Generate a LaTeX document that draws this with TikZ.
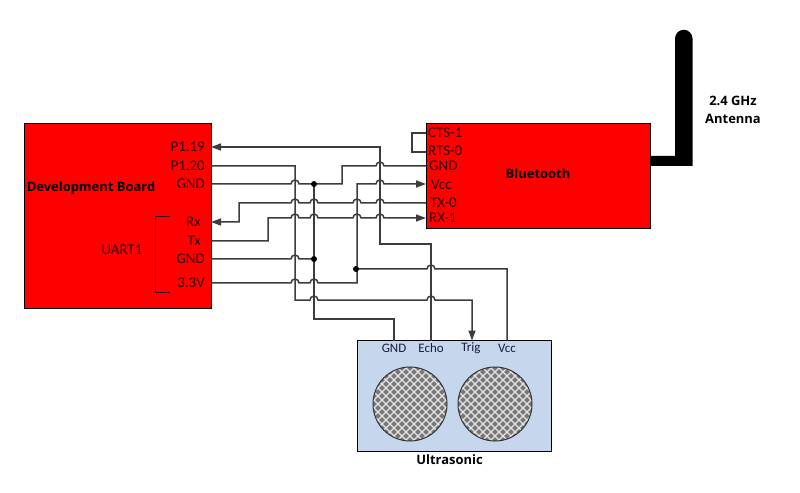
\documentclass[tikz,border=0pt]{standalone}
\usepackage{fontspec}
\setmainfont{Open Sans}
\newfontfamily\pinfont{Carlito}
\usetikzlibrary{arrows.meta}
\definecolor{boardred}{RGB}{255,0,0}
\definecolor{ultra}{RGB}{198,214,236}
\definecolor{pintext}{RGB}{50,0,0}
\definecolor{wire}{RGB}{60,60,60}
\definecolor{cone}{RGB}{120,120,120}
\definecolor{ustext}{RGB}{20,30,60}
\newcommand\hopat[2]{-- (#1-4,#2) arc[start angle=180,end angle=0,radius=4bp]}
\tikzset{
  box/.style={draw=black,line width=1bp},
  wirepath/.style={draw=wire,line width=1.5bp},
  arrowed/.style={-{Triangle[length=10bp,width=7bp]}},
  arrowedrev/.style={{Triangle[length=10bp,width=7bp]}-},
  title/.style={font=\fontsize{13}{15}\selectfont\bfseries,text=black,inner sep=0pt},
  pinl/.style={font=\pinfont\fontsize{15}{17}\selectfont,text=pintext,inner sep=0pt},
  pinu/.style={font=\pinfont\fontsize{13}{15}\selectfont,text=ustext,inner sep=0pt},
  dot/.style={circle,fill=black,inner sep=0pt,minimum size=6bp},
}
\begin{document}
\begin{tikzpicture}[x=1bp,y=-1bp]
\useasboundingbox (0,0) rectangle (800,493);
% antenna
\fill[black] (650,156) -- (675,156) -- (675,38.5) arc[start angle=180,end angle=0,radius=8.75bp] -- (692.5,166) -- (650,166) -- cycle;
% boxes
\node[box,fill=boardred,minimum width=187bp,minimum height=184bp,inner sep=0pt,outer sep=0pt,anchor=north west] (board) at (24,124) {};
\node[box,fill=boardred,minimum width=224bp,minimum height=104bp,inner sep=0pt,outer sep=0pt,anchor=north west] (bt) at (426,124) {};
\node[box,fill=ultra,minimum width=194bp,minimum height=110.5bp,inner sep=0pt,outer sep=0pt,anchor=north west] (us) at (357,340.5) {};
% UART bracket
\draw[draw=pintext,line width=1bp] (170,217) -- (155,217) -- (155,292) -- (170,292);
% cones
\foreach \cx/\nm in {410/conea,495/coneb}{
  \begin{scope}
    \clip (\cx,404) circle[radius=37bp];
    \fill[cone] (\cx-40,364) rectangle (\cx+40,444);
    \foreach \d in {-88,-80,...,88}{
      \draw[white!90!black,line width=1.2bp] (\cx+\d-45,404-45) -- (\cx+\d+45,404+45);
      \draw[white!90!black,line width=1.2bp] (\cx+\d-45,404+45) -- (\cx+\d+45,404-45);
    }
  \end{scope}
  \node[circle,draw=black!80,line width=1bp,minimum size=74bp,inner sep=0pt,outer sep=0pt] (\nm) at (\cx,404) {};
}
% titles
\node[title] (tdev) at (91,188) {Development Board};
\node[title] (tbt) at (538,174) {Bluetooth};
\node[title] (tus) at (449.5,460) {Ultrasonic};
\node[title] (tant1) at (733,101) {2.4 GHz};
\node[title] (tant2) at (733,119) {Antenna};
% anchor points
\coordinate (p19) at (board.east |- 0,147);
\coordinate (p20) at (board.east |- 0,166);
\coordinate (pg) at (board.east |- 0,184);
\coordinate (prx) at (board.east |- 0,222);
\coordinate (ptx) at (board.east |- 0,241);
\coordinate (pg2) at (board.east |- 0,259);
\coordinate (p33) at (board.east |- 0,283);
\coordinate (bcts) at (bt.west |- 0,133);
\coordinate (brts) at (bt.west |- 0,152);
\coordinate (bg) at (bt.west |- 0,166);
\coordinate (bv) at (bt.west |- 0,184);
\coordinate (btx) at (bt.west |- 0,203);
\coordinate (brx) at (bt.west |- 0,218);
\coordinate (sg) at (394,340.5);
\coordinate (se) at (431,340.5);
\coordinate (st) at (472,340.5);
\coordinate (sv) at (507,340.5);
% wires
\draw[wirepath,arrowedrev] (p19) -- (380,147) -- (380,244) -- (431,244) -- (se);
\draw[wirepath,arrowed] (p20) -- (295,166) -- (295,300) \hopat{314}{300} \hopat{431}{300} -- (472,300) -- (st);
\draw[wirepath] (pg) \hopat{295}{184} -- (342,184) -- (342,166) \hopat{380}{166} -- (bg);
\draw[wirepath,arrowedrev] (prx) -- (239,222) -- (239,203) \hopat{295}{203} \hopat{314}{203} \hopat{357}{203} \hopat{380}{203} -- (btx);
\draw[wirepath,arrowed] (ptx) -- (268,241) -- (268,218) \hopat{295}{218} \hopat{314}{218} \hopat{357}{218} \hopat{380}{218} -- (brx);
\draw[wirepath] (pg2) \hopat{295}{259} -- (314,259);
\draw[wirepath] (314,184) -- (314,319) -- (394,319) -- (sg);
\draw[wirepath,arrowed] (p33) \hopat{295}{283} \hopat{314}{283} -- (357,283) -- (357,184) \hopat{380}{184} -- (bv);
\draw[wirepath] (356,269) \hopat{431}{269} -- (507,269) -- (sv);
\draw[wirepath] (bcts) -- (412,133) -- (412,152) -- (brts);
% junctions
\node[dot] (j1) at (314,184) {};
\node[dot] (j2) at (314,259) {};
\node[dot] (j3) at (356,269) {};
% board pins
\node[pinl,anchor=east] (lp19) at (205,146.5) {P1.19};
\node[pinl,anchor=east] (lp20) at (205,165.5) {P1.20};
\node[pinl,anchor=east] (lgnd) at (205,184) {GND};
\node[pinl,anchor=east] (lrx) at (201,222) {Rx};
\node[pinl,anchor=east] (ltx) at (201,241) {Tx};
\node[pinl,anchor=east] (lgnd2) at (205,259) {GND};
\node[pinl,anchor=east] (l33) at (205,283) {3.3V};
\node[pinl] (luart) at (122,250) {UART1};
% bluetooth pins
\node[pinl,anchor=west] (lcts) at (428,133) {CTS-1};
\node[pinl,anchor=west] (lrts) at (428,151) {RTS-0};
\node[pinl,anchor=west] (lbg) at (429,166) {GND};
\node[pinl,anchor=west] (lbv) at (431,185) {Vcc};
\node[pinl,anchor=west] (lbt) at (430,203) {TX-0};
\node[pinl,anchor=west] (lbr) at (429,218) {RX-1};
% ultrasonic pins
\node[pinu] (ug) at (394,348) {GND};
\node[pinu] (ue) at (431,348) {Echo};
\node[pinu] (ut) at (471,348) {Trig};
\node[pinu] (uv) at (507,348) {Vcc};
\end{tikzpicture}
\end{document}
